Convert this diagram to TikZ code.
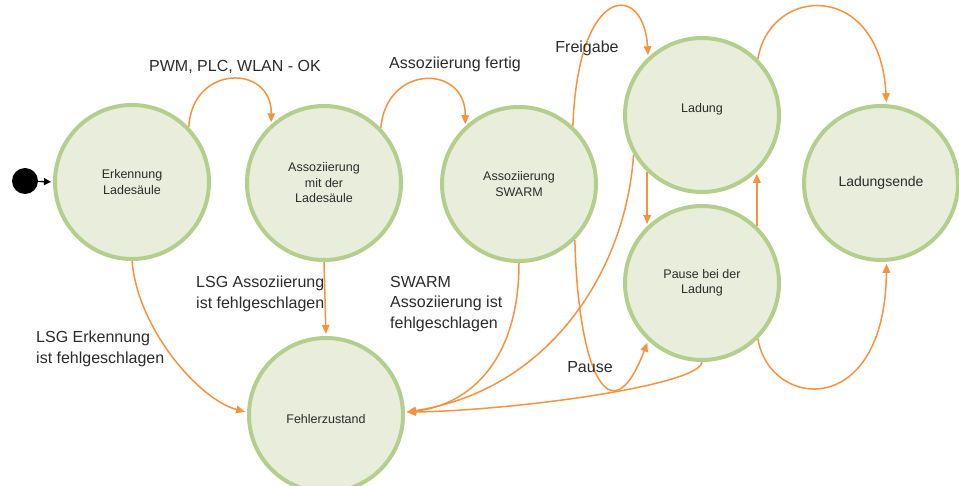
\documentclass[tikz,border=0pt]{standalone}
\usepackage{fontspec}
\setmainfont{Liberation Sans}
\usetikzlibrary{arrows.meta}
\pgfdeclarelayer{background}
\pgfsetlayers{background,main}
\definecolor{statefill}{HTML}{E8EEDB}
\definecolor{stateline}{HTML}{B4CF8D}
\definecolor{flow}{HTML}{F7923F}
\definecolor{ink}{HTML}{2B2B2B}

\begin{document}
\begin{tikzpicture}[x=1pt,y=-1pt,
  state/.style={circle, draw=stateline, fill=statefill, line width=4pt,
    minimum size=154pt, inner sep=0pt, align=center, text=ink,
    font=\fontsize{12.5}{15.5}\selectfont},
  trans/.style={draw=flow, line width=1.5pt, shorten >=2pt,
    -{Triangle[length=9pt,width=7.5pt]}},
  lbl/.style={text=ink, font=\fontsize{16}{20.5}\selectfont, inner sep=0pt, align=left},
]
\useasboundingbox (0,0) rectangle (959,486);

% states
\node[state] (E) at (132,182) {Erkennung\\Ladesäule};
\node[state] (A) at (324,183) {Assoziierung\\mit der\\Ladesäule};
\node[state] (S) at (519,184) {Assoziierung\\SWARM};
\node[state] (L) at (702,115) {\raisebox{14pt}{Ladung}};
\node[state, font=\fontsize{14}{17}\selectfont] (LE) at (881,183) {Ladungsende};
\node[state] (P) at (702,283) {Pause bei der\\Ladung};
\node[state] (F) at (326,415) {\raisebox{-18pt}{Fehlerzustand}};

% initial state
\node[circle, fill=black, minimum size=26pt, inner sep=0pt] (start) at (25,181) {};
\draw[line width=1.3pt, shorten >=2pt, -{Triangle[length=7pt,width=7pt]}] (start) -- (E.west);

% transitions, behind the states
\begin{pgfonlayer}{background}
\draw[trans] (E.44) .. controls (192,64) and (272,64) .. (A.132);
\draw[trans] (A.44) .. controls (386,64) and (466,64) .. (S.133);
\draw[trans] (S.47) .. controls (578,-18) and (644,-18) .. (L.133);
\draw[trans] (S.-45) .. controls (578,370) and (610,440) .. (P.227);
\draw[trans] (S.270) .. controls (519,360) and (470,405) .. (F.2);
\draw[trans] (L.210) .. controls (626,270) and (550,390) .. (F.2);
\draw[trans] (P.270) .. controls (700,385) and (520,410) .. (F.2);
\draw[trans] (A.south) -- (F.north);
\draw[trans] (E.270) .. controls (138,330) and (200,400) .. (F.178);
\draw[trans] (L.45) .. controls (770,-15) and (880,-20) .. (LE.86);
\draw[trans] (P.-45) .. controls (770,410) and (885,420) .. (LE.-86);
\draw[trans] (L.226) -- (P.134);
\draw[trans] (P.46) -- (L.-46);
\end{pgfonlayer}

% transition labels
\node[lbl] (l1) at (235,67) {PWM, PLC, WLAN - OK};
\node[lbl] (l2) at (455,64) {Assoziierung fertig};
\node[lbl] (l3) at (587,48) {Freigabe};
\node[lbl] (l4) at (590,367) {Pause};
\node[lbl, anchor=west] (l5) at (196,294) {LSG Assoziierung\\ist fehlgeschlagen};
\node[lbl, anchor=west] (l6) at (390,304) {SWARM\\Assoziierung ist\\fehlgeschlagen};
\node[lbl, anchor=west] (l7) at (36,349) {LSG Erkennung\\ist fehlgeschlagen};
\end{tikzpicture}
\end{document}
